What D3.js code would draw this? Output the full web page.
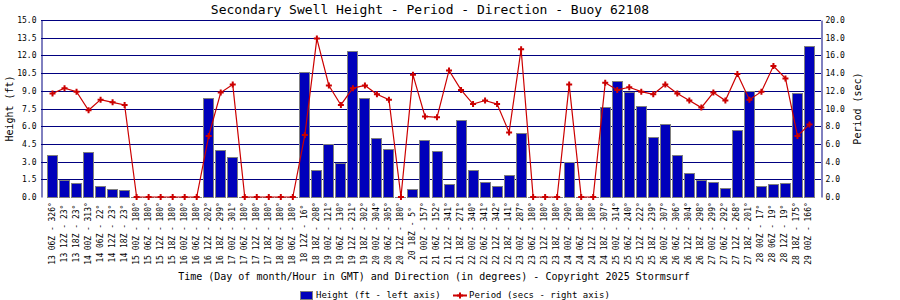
<!DOCTYPE html>
<html>
<head>
<meta charset="utf-8">
<script src="https://cdn.jsdelivr.net/npm/d3@7"></script>
<style>
  body { margin: 0; background: #fff; }
  text { font-family: "DejaVu Sans Mono", monospace; }
</style>
</head>
<body>
<script>
// chart values
var times = ["13 06Z","13 12Z","13 18Z","14 00Z","14 06Z","14 12Z","14 18Z",
  "15 00Z","15 06Z","15 12Z","15 18Z","16 00Z","16 06Z","16 12Z","16 18Z",
  "17 00Z","17 06Z","17 12Z","17 18Z","18 00Z","18 06Z","18 12Z","18 18Z",
  "19 00Z","19 06Z","19 12Z","19 18Z","20 00Z","20 06Z","20 12Z","20 18Z",
  "21 00Z","21 06Z","21 12Z","21 18Z","22 00Z","22 06Z","22 12Z","22 18Z",
  "23 00Z","23 06Z","23 12Z","23 18Z","24 00Z","24 06Z","24 12Z","24 18Z",
  "25 00Z","25 06Z","25 12Z","25 18Z","26 00Z","26 06Z","26 12Z","26 18Z",
  "27 00Z","27 06Z","27 12Z","27 18Z","28 00Z","28 06Z","28 12Z","28 18Z","29 00Z"];
var directions = [326,23,23,313,22,23,23,
  180,180,180,180,180,180,202,299,
  301,180,180,180,180,180,16,208,
  121,130,231,302,304,305,180,5,
  157,152,341,271,340,341,342,141,
  287,180,180,180,290,180,180,307,
  314,240,222,239,307,306,304,298,
  299,292,268,201,17,19,19,175,166];
var heights = [3.6,1.4,1.2,3.8,0.9,0.7,0.6,
  0,0,0,0,0,0,8.4,4.0,
  3.4,0,0,0,0,0,10.6,2.3,
  4.5,2.9,12.4,8.4,5.0,4.1,0,0.7,
  4.8,3.9,1.1,6.5,2.3,1.3,0.9,1.9,
  5.4,0,0,0,3.0,0,0,7.6,
  9.8,8.9,7.7,5.1,6.2,3.6,2.0,1.4,
  1.3,0.8,5.7,9.0,0.9,1.1,1.2,8.8,12.8];
var periods = [11.7,12.3,11.9,9.8,11.0,10.7,10.4,
  0,0,0,0,0,0,6.9,11.8,
  12.7,0,0,0,0,0,7.0,17.9,
  12.6,10.4,12.3,12.6,11.6,11.0,0,13.8,
  9.1,9.0,14.3,12.1,10.5,10.9,10.5,7.3,
  16.7,0,0,0,12.7,0,0,12.9,
  12.1,12.4,11.9,11.6,12.7,11.7,10.9,10.1,
  11.8,10.9,13.9,11.0,11.9,14.8,13.4,6.9,8.2];
var heightTicks = [0,1.5,3,4.5,6,7.5,9,10.5,12,13.5,15];
var periodTicks = [0,2,4,6,8,10,12,14,16,18,20];

var width = 900, height = 300;
var plotLeft = 41, plotRight = 821, plotTop = 20, plotBottom = 197;
var navy = "#000080", barFill = "#0000bb", barEdge = "#808080", red = "#cc0000";

var svg = d3.select("body").append("svg")
    .attr("width", width)
    .attr("height", height);

var x = d3.scaleBand()
    .domain(d3.range(times.length))
    .range([plotLeft, plotRight])
    .paddingOuter(0.5)
    .paddingInner(1 / 12);

var yH = d3.scaleLinear().domain([0, 15]).range([plotBottom, plotTop]);
var yP = d3.scaleLinear().domain([0, 20]).range([plotBottom, plotTop]);

// title
svg.append("text")
    .attr("x", 430).attr("y", 14)
    .attr("text-anchor", "middle")
    .style("font-size", "13px")
    .text("Secondary Swell Height - Period - Direction - Buoy 62108");

// grid lines
svg.append("g")
    .selectAll("line")
    .data(heightTicks.slice(1))
    .join("line")
    .attr("x1", plotLeft).attr("x2", plotRight)
    .attr("y1", d => Math.round(yH(d)) + 0.5)
    .attr("y2", d => Math.round(yH(d)) + 0.5)
    .attr("stroke", navy);

// left axis
var leftAxis = svg.append("g")
    .attr("transform", `translate(${plotLeft + 0.5},0)`)
    .call(d3.axisLeft(yH).tickValues(heightTicks).tickFormat(d3.format(".1f")).tickSize(0).tickPadding(5));
leftAxis.select(".domain").attr("stroke", navy);
leftAxis.selectAll("text").style("font-size", "8px").style("font-family", "DejaVu Sans Mono").attr("fill", "#000");

// right axis
var rightAxis = svg.append("g")
    .attr("transform", `translate(${plotRight + 0.5},0)`)
    .call(d3.axisRight(yP).tickValues(periodTicks).tickFormat(d3.format(".1f")).tickSize(0).tickPadding(4));
rightAxis.select(".domain").attr("stroke", navy);
rightAxis.selectAll("text").style("font-size", "8px").style("font-family", "DejaVu Sans Mono").attr("fill", "#000");

// axis titles
svg.append("text")
    .attr("transform", `translate(13,${(plotTop + plotBottom) / 2}) rotate(-90)`)
    .attr("text-anchor", "middle")
    .style("font-size", "10px")
    .text("Height (ft)");

svg.append("text")
    .attr("transform", `translate(861,${(plotTop + plotBottom) / 2}) rotate(-90)`)
    .attr("text-anchor", "middle")
    .style("font-size", "10px")
    .text("Period (sec)");

// bars
svg.append("g")
    .selectAll("rect")
    .data(heights)
    .join("rect")
    .attr("x", (d, i) => Math.round(x(i)) + 0.5)
    .attr("y", d => Math.round(yH(d)) + 0.5)
    .attr("width", Math.round(x.bandwidth()) - 1)
    .attr("height", d => Math.max(0, Math.round(yH(0)) - Math.round(yH(d))))
    .attr("fill", barFill)
    .attr("stroke", barEdge);

// zero-height bar bases
svg.append("g")
    .selectAll("line")
    .data(heights)
    .join("line")
    .attr("x1", (d, i) => Math.round(x(i)))
    .attr("x2", (d, i) => Math.round(x(i)) + Math.round(x.bandwidth()))
    .attr("y1", Math.round(yH(0)) + 0.5)
    .attr("y2", Math.round(yH(0)) + 0.5)
    .attr("stroke", barEdge);

// period line
var cx = i => x(i) + x.bandwidth() / 2;
svg.append("path")
    .datum(periods)
    .attr("fill", "none")
    .attr("stroke", red)
    .attr("stroke-width", 1.2)
    .attr("d", d3.line().x((d, i) => cx(i)).y(d => yP(d)));

svg.append("g")
    .selectAll("path")
    .data(periods)
    .join("path")
    .attr("transform", (d, i) => `translate(${cx(i)},${yP(d)})`)
    .attr("d", d3.symbol(d3.symbolCross, 20))
    .attr("fill", red);

// x labels
svg.append("g")
    .selectAll("text")
    .data(times)
    .join("text")
    .attr("transform", (d, i) => `translate(${cx(i) + 2},233.5) rotate(-90)`)
    .attr("text-anchor", "middle")
    .style("font-size", "8px")
    .text((d, i) => `${d} - ${directions[i]}°`);

// x title
svg.append("text")
    .attr("x", 434).attr("y", 280)
    .attr("text-anchor", "middle")
    .style("font-size", "10px")
    .text("Time (Day of month/Hour in GMT) and Direction (in degrees) - Copyright 2025 Stormsurf");

// legend
svg.append("rect")
    .attr("x", 300.5).attr("y", 291.5)
    .attr("width", 12).attr("height", 8)
    .attr("fill", barFill).attr("stroke", barEdge);
svg.append("text")
    .attr("x", 316).attr("y", 298)
    .style("font-size", "9px")
    .text("Height (ft - left axis)");
svg.append("line")
    .attr("x1", 453).attr("x2", 467)
    .attr("y1", 295.5).attr("y2", 295.5)
    .attr("stroke", red).attr("stroke-width", 2);
svg.append("path")
    .attr("transform", "translate(460,295.5)")
    .attr("d", d3.symbol(d3.symbolCross, 20))
    .attr("fill", red);
svg.append("text")
    .attr("x", 469).attr("y", 298)
    .style("font-size", "9px")
    .text("Period (secs - right axis)");
</script>
</body>
</html>
